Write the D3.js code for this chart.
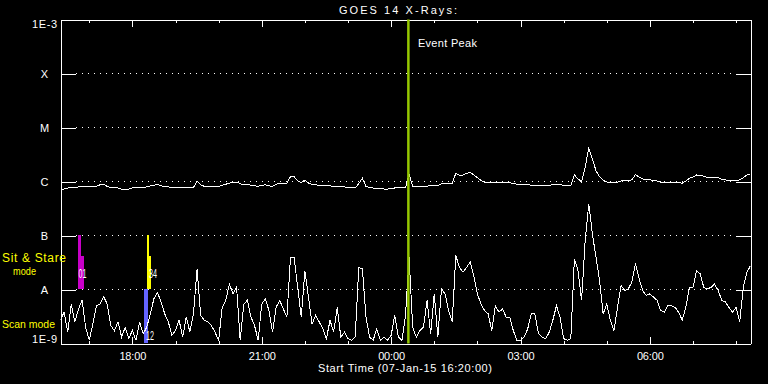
<!DOCTYPE html>
<html>
<head>
<meta charset="utf-8">
<script src="https://cdn.jsdelivr.net/npm/d3@7"></script>
<style>
  body { margin: 0; background: #000; }
  svg { display: block; background: #000; }
  text { font-family: "Liberation Sans", Arial, sans-serif; font-size: 11px; fill: #fff; }
</style>
</head>
<body>
<svg></svg>
<script>
/* TIME RANGE OF THE PLOT */
const startTime = new Date(2015, 0, 7, 16, 20)
const endTime = new Date(2015, 0, 8, 8, 20)
const stepMinutes = 5
const eventPeak = new Date(2015, 0, 8, 0, 24)

/* GOES 14 FLUX, log10(W/m2), ONE VALUE EVERY 5 MIN FROM 16:20 */
const longLog = [
  -6.14, -6.14, -6.12, -6.11, -6.11, -6.10, -6.09, -6.09, -6.09, -6.10,
  -6.09, -6.06, -6.05, -6.09, -6.11, -6.12, -6.12, -6.14, -6.14, -6.14,
  -6.12, -6.11, -6.11, -6.11, -6.10, -6.08, -6.07, -6.05, -6.08, -6.09,
  -6.10, -6.11, -6.12, -6.12, -6.12, -6.12, -6.12, -6.11, -5.99, -6.06,
  -6.09, -6.10, -6.10, -6.10, -6.09, -6.07, -6.05, -6.03, -6.02, -6.01,
  -6.04, -6.06, -6.05, -6.07, -6.08, -6.09, -6.07, -6.06, -6.08, -6.09,
  -6.05, -6.04, -6.04, -6.03, -5.91, -5.91, -5.99, -6.02, -5.97, -6.03,
  -6.05, -6.06, -6.07, -6.07, -6.07, -6.08, -6.09, -6.09, -6.09, -6.10,
  -6.12, -6.12, -6.12, -6.04, -5.94, -6.09, -6.11, -6.12, -6.13, -6.13,
  -6.14, -6.14, -6.13, -6.12, -6.12, -6.12, -6.12, -5.86, -6.09, -6.10,
  -6.10, -6.09, -6.09, -6.07, -6.07, -6.08, -6.04, -6.04, -6.04, -6.03,
  -5.85, -5.88, -5.88, -5.85, -5.83, -5.88, -5.93, -5.98, -6.01, -6.01,
  -6.01, -6.01, -6.01, -6.01, -6.02, -6.02, -6.04, -6.05, -6.05, -6.05,
  -6.05, -6.07, -6.07, -6.07, -6.07, -6.07, -6.07, -6.06, -6.05, -6.06,
  -6.07, -6.07, -6.07, -5.88, -5.95, -6.01, -5.73, -5.38, -5.58, -5.80,
  -5.91, -5.98, -6.01, -6.01, -6.01, -6.01, -5.99, -5.99, -5.98, -5.97,
  -5.87, -5.92, -5.95, -5.97, -5.97, -5.98, -5.99, -6.01, -6.01, -6.01,
  -6.01, -6.01, -6.02, -6.03, -5.99, -5.94, -5.92, -5.88, -5.89, -5.90,
  -5.93, -5.93, -5.92, -5.93, -5.96, -5.97, -5.98, -5.98, -5.99, -5.97,
  -5.93, -5.88, -5.86
]

const shortLog = [
  -8.57, -8.42, -8.79, -8.27, -8.60, -8.36, -8.20, -8.70, -8.94, -8.64,
  -8.30, -8.27, -8.13, -8.27, -8.67, -8.76, -8.60, -8.88, -8.70, -8.91,
  -8.76, -8.94, -8.60, -8.82, -8.70, -8.45, -8.17, -8.06, -8.23, -8.45,
  -8.60, -8.85, -8.76, -8.57, -8.88, -8.51, -8.79, -8.45, -7.62, -8.48,
  -8.57, -8.60, -8.67, -8.79, -8.94, -8.33, -8.20, -7.90, -8.08, -7.96,
  -8.94, -8.27, -8.20, -8.51, -8.67, -8.94, -8.27, -8.17, -8.39, -8.79,
  -8.33, -8.20, -8.36, -8.51, -7.40, -7.41, -7.96, -8.51, -7.65, -8.14,
  -8.64, -8.48, -8.60, -8.73, -8.91, -8.57, -8.79, -8.33, -8.88, -8.79,
  -8.91, -8.94, -8.88, -7.59, -7.62, -8.51, -8.88, -8.94, -8.73, -8.94,
  -8.88, -8.94, -8.85, -8.48, -8.88, -8.94, -8.48, -7.40, -8.70, -8.88,
  -8.76, -8.70, -8.20, -8.82, -8.08, -8.88, -7.99, -8.08, -8.39, -8.60,
  -7.37, -7.59, -7.68, -7.59, -7.49, -7.74, -8.08, -8.27, -8.39, -8.45,
  -8.76, -8.30, -8.42, -8.36, -8.51, -8.51, -8.76, -8.94, -8.94, -8.88,
  -8.73, -8.45, -8.45, -8.82, -8.88, -8.91, -8.79, -8.57, -8.30, -8.51,
  -8.91, -8.94, -8.91, -7.43, -7.65, -8.20, -7.09, -6.41, -6.97, -7.40,
  -7.83, -8.45, -8.27, -8.57, -8.76, -8.33, -7.93, -8.02, -7.99, -7.86,
  -7.52, -7.80, -8.02, -8.11, -8.08, -8.14, -8.20, -8.39, -8.42, -8.30,
  -8.30, -8.33, -8.42, -8.57, -8.33, -7.96, -7.96, -7.65, -7.71, -7.96,
  -7.99, -7.96, -7.90, -8.02, -8.20, -8.23, -8.33, -8.42, -8.33, -8.60,
  -7.96, -7.68, -7.56
]

/* FLARE CLASS LEVELS ON THE Y AXIS */
const levelValues = [1e-9, 1e-8, 1e-7, 1e-6, 1e-5, 1e-4, 1e-3]
const levelLabels = ['1E-9', 'A', 'B', 'C', 'M', 'X', '1E-3']

/* OBSERVING MODE MARKERS (start, end, top flux, bottom flux) */
const modeBars = [
  { start: [16, 45], end: [16, 49], hi: 1e-7, lo: 1e-8, mode: 'stare1' },
  { start: [16, 49], end: [16, 53], hi: 4.1e-8, lo: 1e-8, mode: 'stare1' },
  { start: [18, 17], end: [18, 22], hi: 1e-8, lo: 1e-9, mode: 'scan' },
  { start: [18, 21], end: [18, 24], hi: 1e-7, lo: 1e-8, mode: 'stare2' },
  { start: [18, 24], end: [18, 26], hi: 4.1e-8, lo: 1e-8, mode: 'stare2' }
]
const modeColors = { stare1: '#c800c8', stare2: '#ffff00', scan: '#6464ff' }
const modeNumbers = [
  { text: '01', time: [16, 45], flux: 1.6e-8 },
  { text: '34', time: [18, 23], flux: 1.6e-8 },
  { text: '12', time: [18, 19], flux: 1.15e-9 }
]

const width = 768, height = 384
const plotLeft = 60, plotRight = 750, plotTop = 19, plotBottom = 343

const svg = d3.select('svg')
  .attr('width', width)
  .attr('height', height)

const toDate = hm => {
  const d = new Date(2015, 0, 7, hm[0], hm[1])
  if (hm[0] < 12) d.setDate(8)
  return d
}

/* SCALES */
const x = d3.scaleTime()
  .domain([startTime, endTime])
  .range([plotLeft, plotRight])

const y = d3.scaleLog()
  .domain([1e-9, 1e-3])
  .range([plotBottom, plotTop])

const g = svg.append('g')
  .attr('transform', 'translate(0.5,0.5)')

svg.append('clipPath').attr('id', 'plot')
  .append('rect')
  .attr('x', plotLeft).attr('y', plotTop)
  .attr('width', plotRight - plotLeft).attr('height', plotBottom - plotTop)

/* DOTTED GRID */
const inner = levelValues.slice(1, -1)
g.selectAll('.grid')
  .data(inner)
  .enter().append('line')
  .attr('x1', plotLeft + 15).attr('x2', plotRight - 15)
  .attr('y1', d => Math.round(y(d))).attr('y2', d => Math.round(y(d)))
  .attr('stroke', '#fff')
  .attr('stroke-dasharray', '1,5')
  .attr('shape-rendering', 'crispEdges')

const whiteAxis = a => a.selectAll('line, path')
  .attr('stroke', '#fff')
  .attr('shape-rendering', 'crispEdges')

/* LEFT AXIS */
const yAxisLeft = d3.axisLeft(y)
  .tickValues(levelValues)
  .tickSizeInner(-15)
  .tickSizeOuter(0)
  .tickFormat((d, i) => levelLabels[i])

g.append('g')
  .attr('transform', `translate(${plotLeft},0)`)
  .call(yAxisLeft)
  .call(whiteAxis)
  .call(a => a.selectAll('text')
    .attr('x', -16)
    .attr('text-anchor', 'middle')
    .attr('fill', '#fff')
    .style('font-family', '"Liberation Sans", Arial, sans-serif')
    .style('font-size', '11px')
    .attr('dy', (d, i) => i === 0 ? '-0.1em' : (i === levelValues.length - 1 ? '0.75em' : '0.35em'))
    .attr('textLength', (d, i) => levelLabels[i].length > 1 ? 25 : null))

/* RIGHT AXIS */
g.append('g')
  .attr('transform', `translate(${plotRight},0)`)
  .call(d3.axisRight(y).tickValues(levelValues).tickSizeInner(-15).tickSizeOuter(0).tickFormat(''))
  .call(whiteAxis)

/* TIME AXES */
const minorHours = d3.timeHour.every(1).range(startTime, endTime)
const majorHours = d3.timeHour.every(3).range(startTime, endTime)

const timeAxis = (axis, y0, labels) => {
  g.append('g')
    .attr('transform', `translate(0,${y0})`)
    .call(axis(x).tickValues(minorHours).tickSizeInner(-3).tickSizeOuter(0).tickFormat(''))
    .call(whiteAxis)
  const major = g.append('g')
    .attr('transform', `translate(0,${y0})`)
    .call(axis(x).tickValues(majorHours).tickSizeInner(-7).tickSizeOuter(0).tickPadding(9)
      .tickFormat(labels ? d3.timeFormat('%H:%M') : ''))
  major.select('path').remove()
  major.selectAll('line').attr('stroke', '#fff').attr('shape-rendering', 'crispEdges')
  major.selectAll('text')
    .attr('fill', '#fff')
    .style('font-family', '"Liberation Sans", Arial, sans-serif')
    .style('font-size', '11px')
    .attr('textLength', 27)
}
timeAxis(d3.axisBottom, plotBottom, true)
timeAxis(d3.axisTop, plotTop, false)

/* MODE BARS */
g.selectAll('.mode')
  .data(modeBars)
  .enter().append('rect')
  .attr('x', d => x(toDate(d.start)) - 0.5)
  .attr('width', d => x(toDate(d.end)) - x(toDate(d.start)))
  .attr('y', d => y(d.hi) - 0.5)
  .attr('height', d => y(d.lo) - y(d.hi))
  .attr('fill', d => modeColors[d.mode])
  .attr('shape-rendering', 'crispEdges')

/* CURVES */
const times = longLog.map((d, i) => d3.timeMinute.offset(startTime, i * stepMinutes))
const line = d3.line()
  .x((d, i) => x(times[i]))
  .y(d => y(Math.pow(10, d)))

const curves = g.append('g').attr('clip-path', 'url(#plot)')
;[longLog, shortLog].forEach(series => {
  curves.append('path')
    .datum(series)
    .attr('d', line)
    .attr('fill', 'none')
    .attr('stroke', '#fff')
    .attr('stroke-width', 1)
    .attr('shape-rendering', 'crispEdges')
})

g.selectAll('.num')
  .data(modeNumbers)
  .enter().append('text')
  .attr('x', d => x(toDate(d.time)))
  .attr('y', d => y(d.flux))
  .attr('textLength', 8)
  .attr('lengthAdjust', 'spacingAndGlyphs')
  .style('font-size', '13px')
  .text(d => d.text)

/* EVENT PEAK LINE */
g.append('line')
  .attr('x1', x(eventPeak)).attr('x2', x(eventPeak))
  .attr('y1', plotTop).attr('y2', plotBottom)
  .attr('stroke', '#96c800')
  .attr('stroke-width', 2.5)

svg.append('text')
  .attr('x', x(eventPeak) + 10)
  .attr('y', 47)
  .attr('textLength', 59)
  .text('Event Peak')

/* TITLES */
svg.append('text')
  .attr('x', 339).attr('y', 14)
  .attr('textLength', 118)
  .text('GOES 14 X-Rays:')

svg.append('text')
  .attr('x', 318).attr('y', 372)
  .attr('textLength', 174)
  .text('Start Time (07-Jan-15 16:20:00)')

/* MODE LEGEND */
svg.append('text')
  .attr('x', 2).attr('y', 262)
  .attr('textLength', 64)
  .style('fill', '#ffff00')
  .style('font-size', '12px')
  .text('Sit & Stare')
svg.append('text')
  .attr('x', 13).attr('y', 275)
  .attr('textLength', 23)
  .attr('lengthAdjust', 'spacingAndGlyphs')
  .style('fill', '#ffff00')
  .style('font-size', '11px')
  .text('mode')
svg.append('text')
  .attr('x', 2).attr('y', 328)
  .attr('textLength', 53)
  .attr('lengthAdjust', 'spacingAndGlyphs')
  .style('fill', '#ffff00')
  .style('font-size', '11px')
  .text('Scan mode')
</script>
</body>
</html>
